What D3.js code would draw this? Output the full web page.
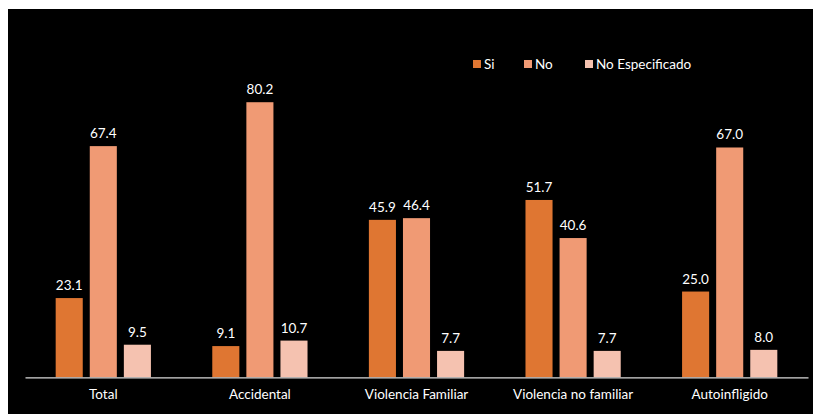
<!DOCTYPE html>
<html><head><meta charset="utf-8">
<script src="https://cdn.jsdelivr.net/npm/d3@7"></script>
<style>body{margin:0;background:#fff}svg{display:block}text{font-family:Lato,"Open Sans",sans-serif}</style>
</head><body><svg id="c" width="813" height="414"></svg>
<script>
const categories = ["Total","Accidental","Violencia Familiar","Violencia no familiar","Autoinfligido"];
const seriesNames = ["Si","No","No Especificado"];
const si = [23.1, 9.1, 45.9, 51.7, 25.0];
const no = [67.4, 80.2, 46.4, 40.6, 67.0];
const noEsp = [9.5, 10.7, 7.7, 7.7, 8.0];
const colors = ["#DF7632","#F09A74","#F5C2B0"];
const seriesValues = [si, no, noEsp];

const svg = d3.select("#c");
svg.append("rect").attr("x",8).attr("y",9).attr("width",805).attr("height",405).attr("fill","#000");

const x0 = d3.scaleBand().domain(categories).range([25,808]).paddingInner(0).paddingOuter(0);
const x1 = d3.scaleBand().domain(seriesNames).range([0, x0.bandwidth()]).paddingInner(0.206).paddingOuter(0.9);
const y = d3.scaleLinear().domain([0,90]).range([377.3, 377.3-90*3.43]);

const g = svg.append("g");
categories.forEach((c,i)=>{
  seriesNames.forEach((s,j)=>{
    const v = seriesValues[j][i];
    g.append("rect").attr("x", x0(c)+x1(s)).attr("y", y(v)).attr("width", x1.bandwidth())
      .attr("height", y(0)-y(v)).attr("fill", colors[j]);
    g.append("text").attr("x", x0(c)+x1(s)+x1.bandwidth()/2).attr("y", y(v)-8)
      .attr("text-anchor","middle").attr("fill","#fff").attr("font-size",13.5).text(v.toFixed(1));
  });
});

const xAxis = d3.axisBottom(x0).tickSize(0).tickPadding(12);
const ax = svg.append("g").attr("transform","translate(0,377.3)").call(xAxis);
ax.select(".domain").attr("stroke","#d9d9d9").attr("stroke-width",1.3);
ax.selectAll("text").attr("fill","#fff").attr("font-size",13.5).attr("font-family","Lato,'Open Sans',sans-serif");

const legendX = [473, 524, 585];
const lg = svg.append("g");
seriesNames.forEach((s,j)=>{
  lg.append("rect").attr("x",legendX[j]).attr("y",60).attr("width",8).attr("height",8).attr("fill",colors[j]);
  lg.append("text").attr("x",legendX[j]+11).attr("y",68.5).attr("fill","#fff").attr("font-size",13.5).text(s);
});
</script></body></html>
